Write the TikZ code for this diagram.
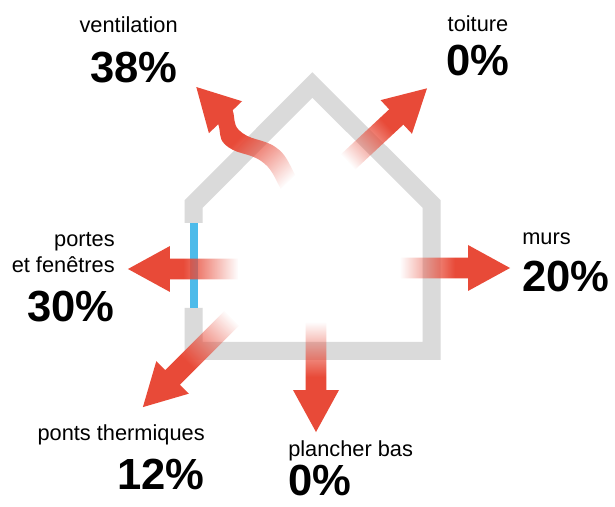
\documentclass[tikz,border=0pt]{standalone}
\usepackage{fontspec}
\setmainfont{Liberation Sans}
\usepackage{xcolor}
\usepackage{tikz}
\usetikzlibrary{backgrounds, fadings}
\definecolor{heatred}{RGB}{232,74,56}
\definecolor{wallgrey}{RGB}{218,218,218}
\definecolor{glassblue}{RGB}{77,187,234}
\tikzfading[name=tailfade, left color=transparent!100, right color=transparent!0, middle color=transparent!0]
\tikzstyle{heat} = [fill=heatred, path fading=tailfade]
\tikzstyle{lossname} = [inner sep=0pt, font=\fontsize{15.5}{18}\selectfont]
\tikzstyle{losspct} = [inner sep=0pt, font=\fontsize{31}{34}\selectfont\bfseries]

% tail point, angle, length
\newcommand{\heatarrow}[3]{%
  \begin{scope}[transform canvas={shift={(#1)}, rotate=#2}]
    \fill [heat] (0, -0.26) -- ({#3-1.05}, -0.26) -- ({#3-1.05}, -0.575) -- (#3, 0) -- ({#3-1.05}, 0.575) -- ({#3-1.05}, 0.26) -- (0, 0.26) -- cycle;
  \end{scope}}

\begin{document}
\begin{tikzpicture}

\useasboundingbox (0, 0) rectangle (15.375, 12.675);

% house
\draw [wallgrey, line width=0.45cm] (4.84, 7.1) -- (4.84, 7.575) -- (7.81, 10.55) -- (10.79, 7.575) -- (10.79, 3.9) -- (4.84, 3.9) -- (4.84, 4.975);
\draw [glassblue, line width=0.2cm] (4.84, 4.975) -- (4.84, 7.1);

% heat losses
\heatarrow{5.95, 5.95}{180}{2.75}
\heatarrow{10.0, 5.975}{0}{2.75}
\heatarrow{7.9, 4.625}{-90}{2.75}
\heatarrow{8.7, 8.625}{43}{2.7}
\heatarrow{5.8, 4.725}{225}{3.15}

\begin{scope}[transform canvas={shift={(7.2, 8.125)}, rotate=134}]
\fill [heat] (0, -0.25) to [out=-15, in=192] (0.85, -0.38) to [out=12, in=180] (1.8, -0.02) to [out=0, in=155] (2.25, -0.25) -- (2.25, -0.575) -- (3.3, 0) -- (2.25, 0.575) -- (2.25, 0.25) to [out=155, in=0] (1.8, 0.48) to [out=180, in=12] (0.85, 0.12) to [out=192, in=-15] (0, 0.25) -- cycle;
\end{scope}

% labels
\node [lossname, anchor=base east] (ventname) at (4.45, 11.85) {ventilation};
\node [losspct, anchor=base east] (ventpct) at (4.45, 10.6) {38\%};
\node [lossname, anchor=base] (roofname) at (11.95, 11.875) {toiture};
\node [losspct, anchor=base] (roofpct) at (11.95, 10.775) {0\%};
\node [lossname, anchor=base east] (doorname) at (2.875, 6.5) {portes};
\node [lossname, anchor=base east] (windowname) at (2.875, 5.85) {et fenêtres};
\node [losspct, anchor=base east] (doorpct) at (2.875, 4.625) {30\%};
\node [lossname, anchor=base west] (wallname) at (13.05, 6.55) {murs};
\node [losspct, anchor=base west] (wallpct) at (13.05, 5.375) {20\%};
\node [lossname, anchor=base east] (bridgename) at (5.125, 1.65) {ponts thermiques};
\node [losspct, anchor=base east] (bridgepct) at (5.125, 0.425) {12\%};
\node [lossname, anchor=base west] (floorname) at (7.2, 1.25) {plancher bas};
\node [losspct, anchor=base west] (floorpct) at (7.2, 0.28) {0\%};

\begin{scope}[on background layer]
\fill [white] (0, 0) rectangle (15.375, 12.675);
\end{scope}

\end{tikzpicture}
\end{document}
